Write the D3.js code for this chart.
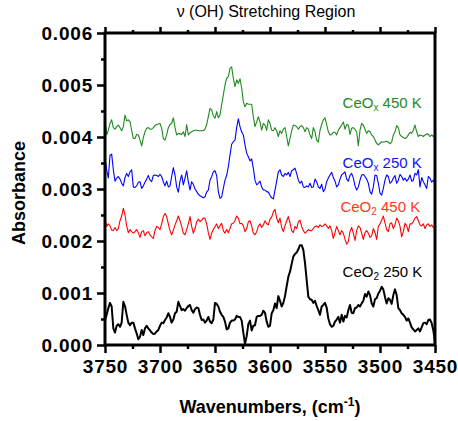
<!DOCTYPE html>
<html>
<head>
<meta charset="utf-8">
<script src="https://cdn.jsdelivr.net/npm/d3@7/dist/d3.min.js"></script>
<style>
    body { margin: 0; background: #fff; }
    svg text { font-family: "Liberation Sans", Arial, sans-serif; }
    .tick-label text { font-size: 19px; font-weight: bold; fill: #000; letter-spacing: 0.8px; }
    .axis line { stroke: #000; stroke-width: 2.5; }
    .axis path.domain { display: none; }
    .axis-title { font-size: 18px; font-weight: bold; }
    .chart-title { font-size: 16px; }
    .series-label { font-size: 15px; }
</style>
</head>
<body>
<div id="chart"></div>
<script>

// wavenumber grid of the spectra (cm-1), evenly sampled from 3750 down to 3450
const wnStart = 3750;
const wnEnd = 3450;
const nPoints = 199;
const wavenumbers = d3.range(nPoints).map(i => wnStart - i * (wnStart - wnEnd) / (nPoints - 1));

// absorbance values, in units of 0.001
const ceOx450 = [
    4.33, 4.04, 4.13, 4.26, 4.33, 4.18, 4.15, 4.20, 4.23, 4.18,
    4.12, 4.20, 4.42, 4.31, 4.33, 4.29, 4.13, 3.97, 3.97, 4.05,
    4.04, 3.94, 3.83, 3.99, 4.10, 4.17, 4.18, 4.15, 4.15, 4.18,
    4.22, 4.24, 4.25, 4.26, 4.17, 3.97, 3.94, 4.04, 4.18, 4.24,
    4.26, 4.37, 4.18, 4.04, 4.07, 4.06, 4.05, 4.10, 4.01, 4.24,
    4.04, 4.08, 4.10, 4.12, 4.13, 4.13, 4.12, 4.12, 4.12, 4.12,
    4.15, 4.24, 4.39, 4.55, 4.52, 4.41, 4.36, 4.49, 4.37, 4.42,
    4.62, 4.81, 5.00, 5.13, 5.16, 5.32, 5.35, 5.13, 4.97, 5.10,
    5.03, 5.12, 4.94, 4.68, 4.58, 4.65, 4.63, 4.63, 4.63, 4.39,
    4.20, 4.29, 4.39, 4.29, 4.13, 4.26,
    4.23, 4.13, 4.33, 4.26, 4.13, 4.12, 4.18, 4.12, 4.01, 4.12,
    4.07, 4.15, 4.18, 4.01, 3.83, 3.97, 4.12, 4.23, 4.22, 4.20,
    4.15, 4.20, 4.22, 4.18, 4.10, 4.18, 4.15, 4.04, 3.97, 4.18,
    4.10, 3.94, 3.90, 4.13, 4.24, 4.33, 4.37, 4.24, 4.10, 4.04,
    4.05, 4.09, 4.09, 4.04, 4.13, 4.18, 4.23, 4.29, 4.15, 4.24,
    4.23, 4.05, 4.17, 4.18, 4.15, 4.10, 3.83, 4.13, 4.26, 4.23,
    4.15, 4.07, 4.12, 4.10, 4.04, 4.01, 3.94, 3.88, 3.85, 3.88,
    3.91, 3.90, 3.91, 3.92, 3.90, 3.87, 3.90, 4.04, 4.10, 4.22,
    4.18, 4.04, 4.01, 3.99, 3.97, 3.99, 4.04, 4.09, 4.07, 4.13,
    4.23, 4.10, 4.01, 4.04, 4.03, 4.01, 4.04, 4.06, 4.05, 4.01,
    4.04, 4.01, 4.03
];

const ceOx250 = [
    3.62, 3.37, 3.21, 3.65, 3.67, 3.37, 3.15, 3.21, 3.24, 3.19,
    3.11, 3.06, 3.22, 3.30, 3.24, 3.33, 3.37, 3.04, 3.03, 3.06,
    3.13, 3.14, 3.01, 3.06, 3.13, 3.19, 3.26, 3.17, 3.14, 3.26,
    3.27, 3.26, 3.24, 3.28, 3.24, 3.14, 3.06, 3.15, 3.04, 3.06,
    3.24, 3.41, 3.27, 3.04, 2.94, 3.15, 3.27, 3.08, 3.21, 3.35,
    3.14, 2.98, 3.14, 3.09, 3.00, 2.95, 2.90, 2.87, 2.85, 2.83,
    2.85, 2.94, 2.98, 3.17, 3.24, 3.33, 3.35, 3.26, 2.95, 2.82,
    2.85, 3.01, 3.17, 3.26, 3.43, 3.65, 3.86, 3.91, 3.94, 4.18,
    4.35, 4.20, 4.10, 4.04, 3.85, 3.69, 3.62, 3.54, 3.58, 3.40,
    3.17, 3.08, 3.11, 3.15, 3.04, 2.98,
    2.98, 2.95, 2.94, 2.88, 2.83, 2.81, 2.98, 3.15, 3.33, 3.37,
    3.27, 3.24, 3.30, 3.27, 3.32, 3.24, 3.35, 3.37, 3.40, 3.30,
    3.17, 3.11, 3.15, 3.04, 3.03, 3.06, 3.04, 3.11, 3.03, 3.04,
    3.19, 3.14, 3.04, 3.01, 3.09, 2.95, 3.00, 3.14, 3.21, 3.27,
    3.32, 3.22, 3.15, 3.04, 3.08, 3.19, 3.27, 3.30, 3.33, 3.19,
    3.15, 3.26, 3.30, 3.21, 3.06, 2.98, 3.04, 3.17, 3.27, 3.28,
    3.24, 3.19, 3.11, 2.95, 2.90, 3.04, 3.27, 3.26, 3.11, 2.92,
    2.88, 3.01, 3.17, 3.27, 3.24, 3.11, 3.14, 3.21, 3.26, 3.11,
    3.17, 3.28, 3.24, 3.17, 3.21, 3.15, 3.19, 3.27, 3.15, 3.17,
    3.30, 3.27, 3.37, 3.04, 3.22, 3.14, 3.08, 3.01, 3.24, 3.21,
    3.13, 3.17, 3.11
];

const ceO2450 = [
    2.44, 2.28, 2.33, 2.29, 2.21, 2.20, 2.26, 2.20, 2.24, 2.39,
    2.48, 2.63, 2.50, 2.29, 2.16, 2.22, 2.18, 2.15, 2.18, 2.22,
    2.16, 2.07, 2.18, 2.20, 2.10, 2.16, 2.18, 2.12, 2.08, 2.05,
    2.20, 2.28, 2.26, 2.22, 2.33, 2.47, 2.53, 2.47, 2.33, 2.20,
    2.12, 2.21, 2.31, 2.39, 2.48, 2.39, 2.28, 2.15, 2.12, 2.22,
    2.33, 2.47, 2.28, 2.15, 2.24, 2.37, 2.42, 2.37, 2.40, 2.44,
    2.44, 2.33, 2.16, 2.03, 2.15, 2.22, 2.28, 2.33, 2.24, 2.29,
    2.34, 2.20, 2.15, 2.22, 2.16, 2.24, 2.33, 2.34, 2.39, 2.48,
    2.44, 2.33, 2.34, 2.29, 2.18, 2.24, 2.37, 2.39, 2.29, 2.15,
    2.12, 2.18, 2.28, 2.33, 2.26, 2.31,
    2.39, 2.33, 2.31, 2.42, 2.46, 2.56, 2.61, 2.44, 2.35, 2.44,
    2.26, 2.18, 2.29, 2.39, 2.47, 2.35, 2.20, 2.16, 2.28, 2.24,
    2.37, 2.40, 2.28, 2.20, 2.15, 2.18, 2.22, 2.20, 2.20, 2.24,
    2.28, 2.29, 2.26, 2.31, 2.28, 2.29, 2.33, 2.29, 2.24, 2.29,
    2.20, 2.05, 2.16, 2.28, 2.20, 2.12, 2.20, 2.15, 2.03, 1.94,
    1.99, 2.18, 2.26, 2.15, 2.01, 2.20, 2.29, 2.26, 2.15, 2.03,
    2.16, 2.20, 2.15, 2.07, 2.10, 2.24, 2.16, 2.03, 2.28, 2.33,
    2.40, 2.48, 2.35, 2.22, 2.18, 2.33, 2.35, 2.24, 2.31, 2.44,
    2.39, 2.28, 2.08, 2.18, 2.34, 2.29, 2.18, 2.33, 2.33, 2.37,
    2.44, 2.47, 2.39, 2.31, 2.29, 2.33, 2.24, 2.31, 2.33, 2.28,
    2.31, 2.26, 2.28
];

const ceO2250 = [
    0.48, 0.58, 0.71, 0.81, 0.74, 0.32, 0.24, 0.37, 0.40, 0.35,
    0.43, 0.83, 0.75, 0.58, 0.43, 0.38, 0.43, 0.43, 0.32, 0.22,
    0.11, 0.16, 0.29, 0.19, 0.32, 0.37, 0.32, 0.28, 0.24, 0.21,
    0.22, 0.26, 0.29, 0.37, 0.43, 0.42, 0.48, 0.53, 0.61, 0.54,
    0.43, 0.49, 0.61, 0.64, 0.83, 0.75, 0.67, 0.69, 0.66, 0.71,
    0.75, 0.77, 0.67, 0.62, 0.69, 0.72, 0.71, 0.58, 0.48, 0.49,
    0.43, 0.47, 0.54, 0.45, 0.42, 0.49, 0.81, 0.79, 0.74, 0.64,
    0.58, 0.54, 0.45, 0.30, 0.32, 0.43, 0.47, 0.47, 0.49, 0.56,
    0.54, 0.54, 0.47, 0.24, 0.02, 0.17, 0.40, 0.47, 0.28, 0.37,
    0.38, 0.54, 0.56, 0.56, 0.58, 0.66,
    0.62, 0.45, 0.35, 0.37, 0.61, 0.67, 0.80, 0.71, 0.94, 0.85,
    0.74, 0.81, 0.94, 1.13, 1.31, 1.41, 1.56, 1.70, 1.75, 1.78,
    1.84, 1.92, 1.92, 1.83, 1.58, 1.25, 0.93, 0.88, 0.87, 0.81,
    0.85, 0.75, 0.67, 0.58, 0.74, 0.77, 0.81, 0.72, 0.51, 0.40,
    0.35, 0.37, 0.45, 0.49, 0.54, 0.43, 0.58, 0.45, 0.56, 0.53,
    0.67, 0.77, 0.62, 0.61, 0.71, 0.72, 0.77, 0.74, 0.80, 0.85,
    0.98, 0.93, 1.03, 0.96, 0.80, 0.74, 0.88, 0.90, 0.99, 1.04,
    1.12, 1.07, 0.92, 0.80, 0.90, 0.87, 0.79, 0.96, 1.07, 0.96,
    0.71, 0.67, 0.61, 0.58, 0.54, 0.47, 0.51, 0.43, 0.34, 0.30,
    0.26, 0.29, 0.32, 0.26, 0.34, 0.42, 0.43, 0.40, 0.48, 0.49,
    0.42, 0.28, 0.05
];

// series names (base, subscript, rest)
const seriesNames = [
    ["CeO", "x", " 450 K"],
    ["CeO", "x", " 250 K"],
    ["CeO", "2", " 450 K"],
    ["CeO", "2", " 250 K"]
];

// axis ticks
const xMajorTicks = [3750, 3700, 3650, 3600, 3550, 3500, 3450];
const xMinorTicks = [3725, 3675, 3625, 3575, 3525, 3475];
const yMajorTicks = [0, 0.001, 0.002, 0.003, 0.004, 0.005, 0.006];
const yMinorTicks = [0.0005, 0.0015, 0.0025, 0.0035, 0.0045, 0.0055];


const width = 458, height = 421;
const margin = {top: 33, right: 23, bottom: 76, left: 105};
const plotW = width - margin.left - margin.right;
const plotH = height - margin.top - margin.bottom;

const svg = d3.select("#chart").append("svg")
    .attr("width", width)
    .attr("height", height);

const g = svg.append("g")
    .attr("transform", "translate(" + margin.left + "," + margin.top + ")");

// Scales (x reversed like an IR spectrum)
const x = d3.scaleLinear().domain([wnStart, wnEnd]).range([0, plotW]);
const y = d3.scaleLinear().domain([0, 0.006]).range([plotH, 0]);

// build series from the arrays
const seriesData = [ceOx450, ceOx250, ceO2450, ceO2250].map(vals =>
    vals.map((v, i) => ({wn: wavenumbers[i], a: v / 1000})));

const colors = ["#1f8a1f", "#0000ff", "#ff0000", "#000000"];
const lineWidths = [1.1, 1.1, 1.1, 2];
// label anchor in data coordinates
const labelPos = [[3534, 0.00455], [3534, 0.00340], [3536, 0.00256], [3534, 0.00130]];
const labelColors = ["#1f8a1f", "#1010ff", "#ff3a1a", "#000000"];

const line = d3.line()
    .x(d => x(d.wn))
    .y(d => y(d.a));

g.selectAll(".spectrum")
    .data(seriesData)
    .enter().append("path")
    .attr("class", "spectrum")
    .attr("fill", "none")
    .attr("stroke", (d, i) => colors[i])
    .attr("stroke-width", (d, i) => lineWidths[i])
    .attr("stroke-linejoin", "round")
    .attr("d", line);

// series labels
seriesNames.forEach(function(name, i) {
    let t = g.append("text")
        .attr("class", "series-label")
        .attr("x", x(labelPos[i][0]))
        .attr("y", y(labelPos[i][1]))
        .attr("fill", labelColors[i]);
    t.append("tspan").text(name[0]);
    t.append("tspan").attr("dy", 3).attr("font-size", "10px").text(name[1]);
    t.append("tspan").attr("dy", -3).text(name[2]);
});

// Axes
g.append("g")
    .attr("class", "axis tick-label")
    .attr("transform", "translate(0," + plotH + ")")
    .call(d3.axisBottom(x).tickValues(xMajorTicks).tickSize(8).tickPadding(7)
        .tickSizeOuter(0).tickFormat(d3.format("d")));

g.append("g")
    .attr("class", "axis")
    .attr("transform", "translate(0," + plotH + ")")
    .call(d3.axisBottom(x).tickValues(xMinorTicks).tickSize(4).tickFormat(""));

g.append("g")
    .attr("class", "axis")
    .call(d3.axisTop(x).tickValues(xMajorTicks).tickSize(6).tickFormat(""));

g.append("g")
    .attr("class", "axis")
    .call(d3.axisTop(x).tickValues(xMinorTicks).tickSize(3).tickFormat(""));

g.append("g")
    .attr("class", "axis tick-label")
    .call(d3.axisLeft(y).tickValues(yMajorTicks).tickSize(8).tickPadding(4).tickFormat(d3.format(".3f")));

g.append("g")
    .attr("class", "axis")
    .call(d3.axisLeft(y).tickValues(yMinorTicks).tickSize(4).tickFormat(""));

// frame
g.append("rect")
    .attr("width", plotW)
    .attr("height", plotH)
    .attr("fill", "none")
    .attr("stroke", "#000")
    .attr("stroke-width", 3);

// Titles
svg.append("text")
    .attr("class", "chart-title")
    .attr("x", 266)
    .attr("y", 17)
    .attr("text-anchor", "middle")
    .text("\u03bd (OH) Stretching Region");

svg.append("text")
    .attr("class", "axis-title")
    .attr("transform", "translate(25," + (margin.top + plotH / 2 + 4) + ") rotate(-90)")
    .attr("text-anchor", "middle")
    .text("Absorbance");

let xTitle = svg.append("text")
    .attr("class", "axis-title")
    .attr("x", margin.left + plotW / 2)
    .attr("y", 413)
    .attr("text-anchor", "middle");
xTitle.append("tspan").text("Wavenumbers, (cm");
xTitle.append("tspan").attr("dy", -7).attr("font-size", "12px").text("-1");
xTitle.append("tspan").attr("dy", 7).text(")");

</script>
</body>
</html>
